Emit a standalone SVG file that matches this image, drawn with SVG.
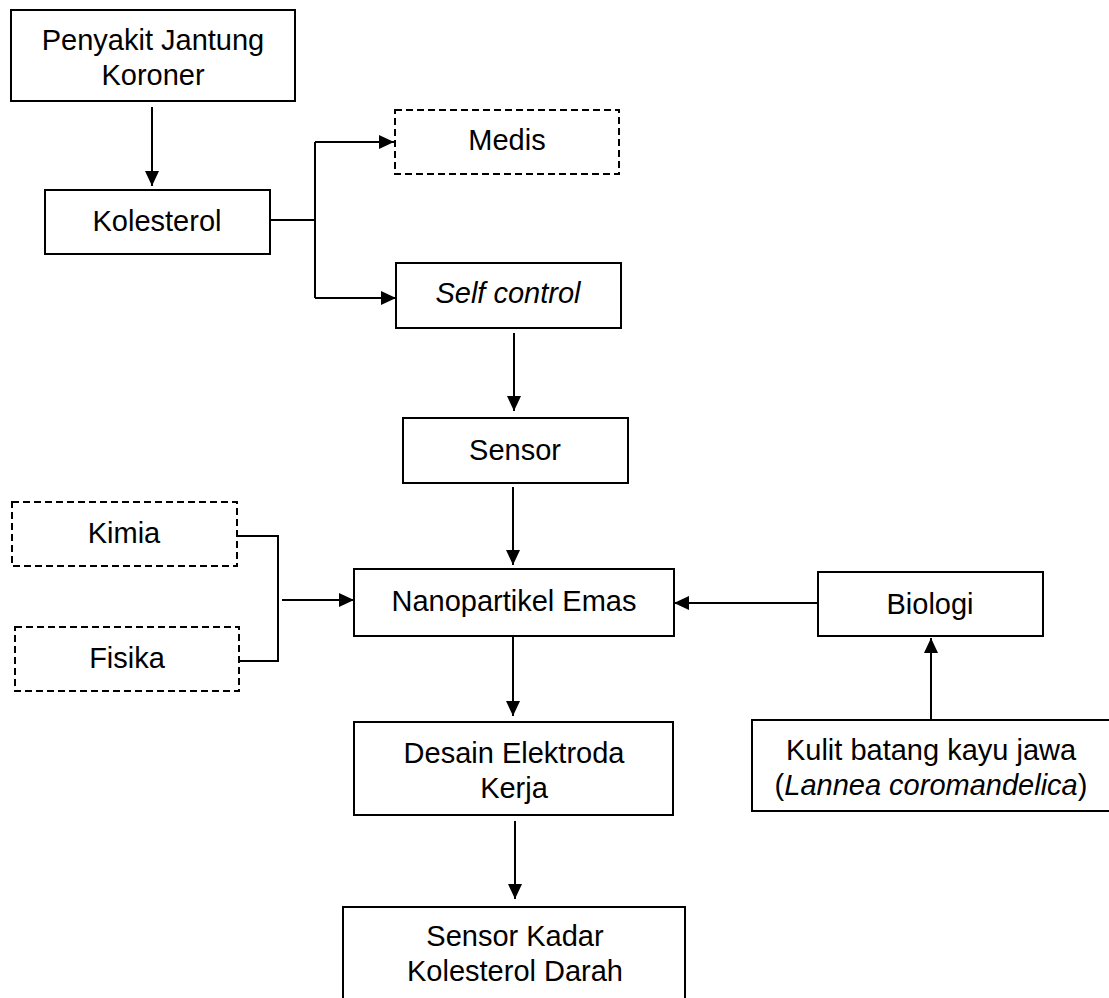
<svg xmlns="http://www.w3.org/2000/svg" width="1109" height="998" viewBox="0 0 1109 998">
<defs>
<marker id="ah" markerUnits="userSpaceOnUse" markerWidth="16" markerHeight="14" refX="15" refY="7" orient="auto">
<path d="M0,0 L15,7 L0,14 z" fill="#000"/>
</marker>
<style>
.box{fill:#fff;stroke:#000;stroke-width:2}
.dbox{fill:#fff;stroke:#000;stroke-width:2;stroke-dasharray:7 4}
.t{font-family:"Liberation Sans",Arial,sans-serif;font-size:29px;fill:#000;text-anchor:middle}
.i{font-style:italic}
.ln{fill:none;stroke:#000;stroke-width:2}
.ar{fill:none;stroke:#000;stroke-width:2;marker-end:url(#ah)}
</style>
</defs>
<rect width="1109" height="998" fill="#fff"/>

<g id="connectors">
<line class="ar" x1="152" y1="107" x2="152" y2="186"/>
<polyline class="ln" points="270,220 315,220"/>
<polyline class="ln" points="315,142 315,298"/>
<line class="ar" x1="315" y1="142" x2="394" y2="142"/>
<line class="ar" x1="315" y1="298" x2="396" y2="298"/>
<line class="ar" x1="514" y1="333" x2="514" y2="411"/>
<line class="ar" x1="513" y1="487" x2="513" y2="565"/>
<line class="ar" x1="513" y1="637" x2="513" y2="716"/>
<line class="ar" x1="515" y1="821" x2="515" y2="899"/>
<polyline class="ln" points="237,536 278,536 278,661 239,661"/>
<line class="ar" x1="282" y1="600" x2="354" y2="600"/>
<line class="ar" x1="818" y1="603" x2="674" y2="603"/>
<line class="ar" x1="931" y1="719" x2="931" y2="638"/>
</g>

<g id="penyakit">
<rect class="box" x="11" y="10" width="284" height="91"/>
<text class="t" x="153" y="50">Penyakit Jantung</text>
<text class="t" x="153" y="85">Koroner</text>
</g>
<g id="kolesterol">
<rect class="box" x="45" y="190" width="225" height="64"/>
<text class="t" x="157" y="231">Kolesterol</text>
</g>
<g id="medis">
<rect class="dbox" x="395" y="110" width="224" height="64"/>
<text class="t" x="507" y="150">Medis</text>
</g>
<g id="selfcontrol">
<rect class="box" x="396" y="263" width="225" height="65"/>
<text class="t i" x="508" y="303">Self control</text>
</g>
<g id="sensor">
<rect class="box" x="403" y="418" width="225" height="65"/>
<text class="t" x="515" y="460">Sensor</text>
</g>
<g id="kimia">
<rect class="dbox" x="12" y="502" width="225" height="64"/>
<text class="t" x="124" y="543">Kimia</text>
</g>
<g id="fisika">
<rect class="dbox" x="15" y="627" width="224" height="64"/>
<text class="t" x="127" y="668">Fisika</text>
</g>
<g id="nanopartikel">
<rect class="box" x="354" y="569" width="320" height="67"/>
<text class="t" x="514" y="611">Nanopartikel Emas</text>
</g>
<g id="biologi">
<rect class="box" x="818" y="572" width="225" height="64"/>
<text class="t" x="930" y="614">Biologi</text>
</g>
<g id="desain">
<rect class="box" x="354" y="722" width="319" height="93"/>
<text class="t" x="514" y="763">Desain Elektroda</text>
<text class="t" x="514" y="798">Kerja</text>
</g>
<g id="kulit">
<rect class="box" x="752" y="720" width="358" height="91"/>
<text class="t" x="931" y="760">Kulit batang kayu jawa</text>
<text class="t" x="931" y="795">(<tspan class="i">Lannea coromandelica</tspan>)</text>
</g>
<g id="sensorkadar">
<rect class="box" x="343" y="907" width="342" height="110"/>
<text class="t" x="515" y="946">Sensor Kadar</text>
<text class="t" x="515" y="981">Kolesterol Darah</text>
</g>
</svg>
